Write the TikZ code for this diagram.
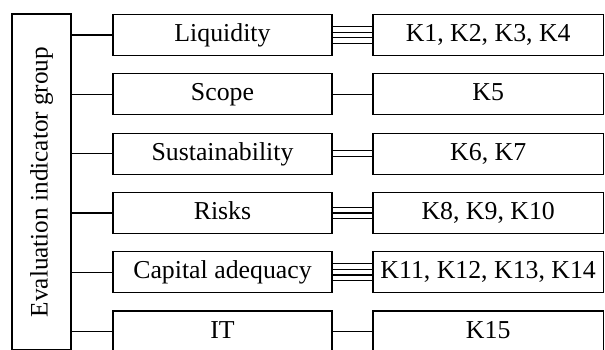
\documentclass[tikz,border=0pt]{standalone}
\usepackage{fontspec}
\setmainfont{Liberation Serif}
\usetikzlibrary{calc}
\tikzset{line/.style={line width=0.6pt},
	item box/.style={draw,line,inner sep=0pt,minimum width=109.5pt,minimum height=20.5pt,text height=0.66em,text depth=0pt,font=\fontsize{12.9}{14}\selectfont},
	key box/.style={item box,minimum width=115.25pt},
	group box/.style={draw,line,inner sep=0pt,rotate=90,minimum width=168pt,minimum height=29.5pt,font=\fontsize{12.6}{14}\selectfont}}

\begin{document}
\begin{tikzpicture}[x=1pt,y=-1pt]
			\useasboundingbox (0,0) rectangle (302.5,174.5);
			\clip (0,0) rectangle (302.5,174.5);
			\node[group box] (group) at (20.75,91) {Evaluation indicator group};
			\node[item box] (liq) at (111.25,17.5) {Liquidity};
			\node[item box] (scope) at (111.25,47.15) {Scope};
			\node[item box] (sust) at (111.25,76.8) {Sustainability};
			\node[item box] (risk) at (111.25,106.45) {Risks};
			\node[item box] (cap) at (111.25,136.1) {Capital adequacy};
			\node[item box] (it) at (111.25,165.75) {IT};
			\node[key box] (kliq) at (244.1,17.5) {K1, K2, K3, K4};
			\node[key box] (kscope) at (244.1,47.15) {K5};
			\node[key box] (ksust) at (244.1,76.8) {K6, K7};
			\node[key box] (krisk) at (244.1,106.45) {K8, K9, K10};
			\node[key box] (kcap) at (244.1,136.1) {K11, K12, K13, K14};
			\node[key box] (kit) at (244.1,165.75) {K15};
			% group to items
			\draw[line] (group.south |- liq) -- (liq.west);
			\draw[line] (group.south |- scope) -- (scope.west);
			\draw[line] (group.south |- sust) -- (sust.west);
			\draw[line] (group.south |- risk) -- (risk.west);
			\draw[line] (group.south |- cap) -- (cap.west);
			\draw[line] (group.south |- it) -- (it.west);
			% items to indicators, one line per indicator
			\draw[line] ([yshift=4.275pt]liq.east) -- ([yshift=4.275pt]kliq.west);
			\draw[line] ([yshift=1.425pt]liq.east) -- ([yshift=1.425pt]kliq.west);
			\draw[line] ([yshift=-1.425pt]liq.east) -- ([yshift=-1.425pt]kliq.west);
			\draw[line] ([yshift=-4.275pt]liq.east) -- ([yshift=-4.275pt]kliq.west);
			\draw[line] (scope.east) -- (kscope.west);
			\draw[line] ([yshift=1.425pt]sust.east) -- ([yshift=1.425pt]ksust.west);
			\draw[line] ([yshift=-1.425pt]sust.east) -- ([yshift=-1.425pt]ksust.west);
			\draw[line] ([yshift=2.85pt]risk.east) -- ([yshift=2.85pt]krisk.west);
			\draw[line] (risk.east) -- (krisk.west);
			\draw[line] ([yshift=-2.85pt]risk.east) -- ([yshift=-2.85pt]krisk.west);
			\draw[line] ([yshift=4.275pt]cap.east) -- ([yshift=4.275pt]kcap.west);
			\draw[line] ([yshift=1.425pt]cap.east) -- ([yshift=1.425pt]kcap.west);
			\draw[line] ([yshift=-1.425pt]cap.east) -- ([yshift=-1.425pt]kcap.west);
			\draw[line] ([yshift=-4.275pt]cap.east) -- ([yshift=-4.275pt]kcap.west);
			\draw[line] (it.east) -- (kit.west);
		\end{tikzpicture}
\end{document}
